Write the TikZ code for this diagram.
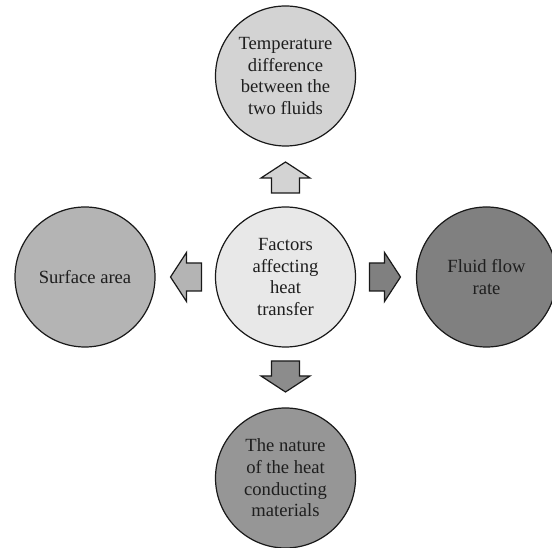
\documentclass[tikz,border=0pt]{standalone}
\usepackage{fontspec}
\setmainfont{Liberation Serif}
\usetikzlibrary{calc}
\definecolor{cTop}{RGB}{211,211,211}
\definecolor{cMid}{RGB}{232,232,232}
\definecolor{cLeft}{RGB}{180,180,180}
\definecolor{cRight}{RGB}{128,128,128}
\definecolor{cBot}{RGB}{150,150,150}
\definecolor{cBotArr}{RGB}{140,140,140}
\definecolor{cLine}{RGB}{25,25,25}
\definecolor{cText}{RGB}{30,30,30}
\begin{document}
\begin{tikzpicture}[x=1bp,y=1bp,
  bubble/.style={circle, draw=cLine, line width=1.2bp, minimum size=140bp, inner sep=0pt,
    align=center, text=cText, font=\fontsize{18.6bp}{21.7bp}\selectfont},
  blockarrow/.style={draw=cLine, line width=1.2bp, line join=miter}]
\useasboundingbox (0,0) rectangle (552,548);
\node[bubble, fill=cMid] (c) at (285.5,271) {Factors\\affecting\\heat\\transfer};
\node[bubble, fill=cTop] (t) at ($(c)+(0,201)$) {Temperature\\difference\\between the\\two fluids};
\node[bubble, fill=cBot] (b) at ($(c)+(0,-201)$) {The nature\\of the heat\\conducting\\materials};
\node[bubble, fill=cLeft] (l) at ($(c)+(-200.5,0)$) {Surface area};
\node[bubble, fill=cRight] (r) at ($(c)+(201,0)$) {Fluid flow\\rate};
\foreach \ang/\col in {90/cTop, 270/cBotArr, 180/cLeft, 0/cRight}{
  \begin{scope}[shift={(c.center)}, rotate=\ang]
    \draw[blockarrow, fill=\col] (84,-14) -- (99,-14) -- (99,-24.5) -- (115,0) -- (99,24.5) -- (99,14) -- (84,14) -- cycle;
  \end{scope}
}
\end{tikzpicture}
\end{document}
